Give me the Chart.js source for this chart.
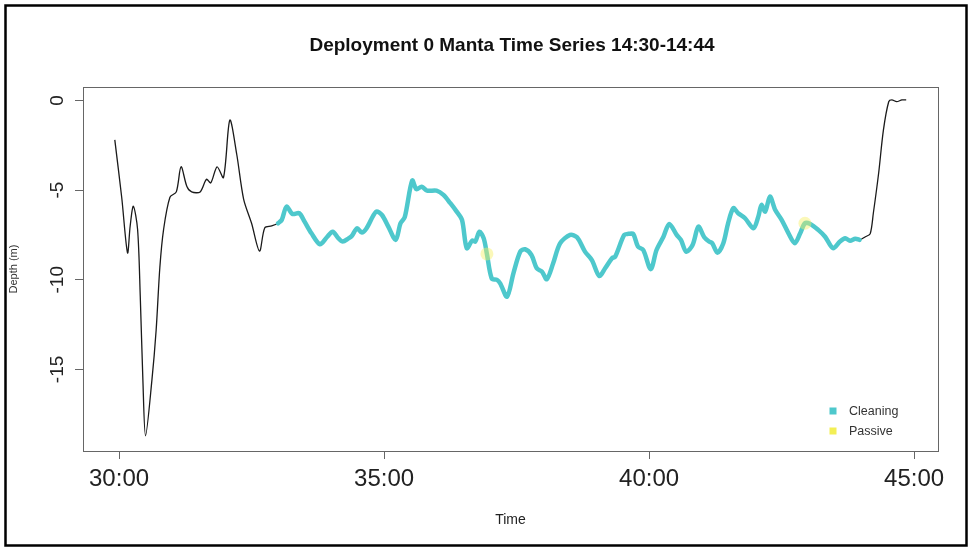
<!DOCTYPE html>
<html>
<head>
<meta charset="utf-8">
<script src="https://cdn.jsdelivr.net/npm/chart.js@4.4.1/dist/chart.umd.min.js"></script>
<style>
  html, body { margin: 0; padding: 0; background: #ffffff; }
  #wrap { width: 971px; height: 549px; position: relative; }
</style>
</head>
<body>
<div id="wrap"><canvas id="c" width="971" height="549"></canvas></div>
<script>
// Depth track of the deployment, minutes past 14:00 vs depth in metres
const trackMinutes = [
  29.92, 30.05, 30.16, 30.21, 30.27, 30.35, 30.40, 30.45, 30.50, 30.62, 30.70, 30.77,
  30.84, 30.96, 31.08, 31.17, 31.28, 31.37, 31.53, 31.65, 31.73, 31.85, 31.97, 32.09,
  32.22, 32.35, 32.50, 32.65, 32.75, 32.88,
  33.00, 33.07, 33.16, 33.27, 33.40, 33.50, 33.63, 33.79, 33.92, 34.03, 34.14, 34.22,
  34.33, 34.39, 34.49, 34.58, 34.67, 34.85, 34.96, 35.08, 35.22, 35.31, 35.39, 35.53,
  35.61, 35.71, 35.81, 35.99, 36.12, 36.25, 36.37, 36.47, 36.56, 36.66, 36.72, 36.80,
  36.88, 36.94, 37.03, 37.13, 37.19, 37.32, 37.44, 37.57, 37.66, 37.78, 37.88, 37.98,
  38.07, 38.19, 38.32, 38.51, 38.64, 38.79, 38.92, 39.06, 39.17, 39.30, 39.36, 39.53,
  39.61, 39.70, 39.79, 39.89, 40.03, 40.14, 40.27, 40.38, 40.52, 40.60, 40.70, 40.82,
  40.93, 41.04, 41.13, 41.19, 41.29, 41.40, 41.49, 41.59, 41.68, 41.81, 41.97, 42.06,
  42.12, 42.19, 42.28, 42.38, 42.50, 42.63, 42.75, 42.85, 42.94, 43.04, 43.19, 43.32,
  43.47, 43.60, 43.70, 43.79, 43.89, 43.97,
  44.08, 44.17, 44.23, 44.33, 44.42, 44.52, 44.58, 44.67, 44.77, 44.85
];
const trackDepth = [
  -2.2, -5.4, -8.5, -7.0, -5.9, -7.2, -10.9, -15.6, -18.7, -15.6, -12.8, -9.3,
  -7.2, -5.4, -5.1, -3.7, -4.8, -5.1, -5.1, -4.4, -4.6, -3.7, -4.3, -1.1,
  -3.0, -5.5, -6.85, -8.4, -7.1, -7.0,
  -6.85, -6.66, -5.92, -6.33, -6.29, -6.76, -7.41, -8.02, -7.63, -7.32, -7.69, -7.87,
  -7.69, -7.56, -7.13, -7.37, -7.13, -6.2, -6.39, -7.04, -7.78, -6.85, -6.51, -4.47,
  -4.95, -4.81, -5.03, -5.03, -5.27, -5.73, -6.2, -6.66, -8.24, -7.82, -7.87, -7.32,
  -7.69, -8.56, -9.92, -10.01, -10.2, -10.94, -9.64, -8.43, -8.3, -8.62, -9.36, -9.55,
  -9.97, -9.08, -7.97, -7.5, -7.63, -8.43, -8.9, -9.79, -9.36, -8.8, -8.71, -7.5,
  -7.44, -7.44, -8.15, -8.34, -9.41, -8.34, -7.6, -6.89, -7.5, -7.78, -8.43, -8.06,
  -7.04, -7.63, -7.87, -7.96, -8.49, -7.96, -6.85, -6.01, -6.29, -6.57, -7.13, -6.48,
  -5.83, -6.2, -5.36, -6.11, -6.66, -7.41, -7.96, -7.41, -6.85, -6.89, -7.22, -7.6,
  -8.24, -7.87, -7.69, -7.82, -7.71, -7.78,
  -7.6, -7.44, -6.29, -4.06, -1.65, -0.07, 0.03, -0.07, 0.03, 0.03
];
// Cleaning behaviour window (minutes)
const cleaningStart = 33.0;
const cleaningEnd = 43.97;
// Passive behaviour samples
const passiveMinutes = [36.94, 42.94];
const passiveDepth = [-8.56, -6.85];
// Axis ticks
const xTickValues = [30, 35, 40, 45];
const yTickValues = [0, -5, -10, -15];

const CLEAN_COLOR = '#4ec8cc';
const PASSIVE_COLOR = 'rgba(246, 240, 100, 0.45)';
const AXIS_COLOR = '#666666';
const TEXT_COLOR = '#222222';

Chart.defaults.font.family = "'Liberation Sans', Arial, Helvetica, sans-serif";

const trackPoints = trackMinutes.map((m, i) => ({ x: m, y: trackDepth[i] }));
const cleaningPoints = trackPoints.filter(p => p.x >= cleaningStart && p.x <= cleaningEnd);
const passivePoints = passiveMinutes.map((m, i) => ({ x: m, y: passiveDepth[i] }));

// Page frame, plot box, main title and legend
const decorations = {
  id: 'decorations',
  afterDraw(chart) {
    const ctx = chart.ctx;
    const a = chart.chartArea;
    ctx.save();
    // plot box
    ctx.strokeStyle = AXIS_COLOR;
    ctx.lineWidth = 1;
    ctx.strokeRect(Math.round(a.left) + 0.5, Math.round(a.top) + 0.5,
                   Math.round(a.right - a.left), Math.round(a.bottom - a.top));
    // outer frame
    ctx.strokeStyle = '#000000';
    ctx.lineWidth = 2.5;
    ctx.strokeRect(5.5, 5.5, 961, 540);
    // title
    ctx.fillStyle = '#111111';
    ctx.font = "bold 19px 'Liberation Sans', Arial, sans-serif";
    ctx.textAlign = 'center';
    ctx.textBaseline = 'middle';
    ctx.fillText('Deployment 0 Manta Time Series 14:30-14:44', 512, 46);
    // legend
    const items = [chart.data.datasets[1], chart.data.datasets[0]];
    ctx.font = "12.5px 'Liberation Sans', Arial, sans-serif";
    ctx.textAlign = 'left';
    items.forEach((ds, i) => {
      const cy = 411 + i * 20;
      ctx.fillStyle = ds.legendColor;
      ctx.fillRect(829.5, cy - 3.5, 7, 7);
      ctx.fillStyle = '#333333';
      ctx.fillText(ds.label, 849, cy + 0.5);
    });
    ctx.restore();
  }
};

new Chart(document.getElementById('c'), {
  type: 'scatter',
  data: {
    datasets: [
      {
        label: 'Passive',
        data: passivePoints,
        showLine: false,
        pointRadius: 6.5,
        pointHoverRadius: 6.5,
        pointBorderWidth: 0,
        pointBackgroundColor: PASSIVE_COLOR,
        legendColor: '#f3ef55',
        order: 0
      },
      {
        label: 'Cleaning',
        data: cleaningPoints,
        showLine: true,
        borderColor: CLEAN_COLOR,
        borderWidth: 4.5,
        tension: 0.3,
        pointRadius: 0,
        borderCapStyle: 'round',
        borderJoinStyle: 'round',
        legendColor: CLEAN_COLOR,
        order: 1
      },
      {
        label: 'Depth',
        data: trackPoints,
        showLine: true,
        borderColor: '#1a1a1a',
        borderWidth: 1.3,
        tension: 0.3,
        pointRadius: 0,
        order: 2
      }
    ]
  },
  options: {
    responsive: false,
    animation: false,
    devicePixelRatio: 1,
    layout: { padding: { left: 5, right: 33, top: 87, bottom: 5 } },
    plugins: {
      legend: { display: false },
      title: { display: false },
      tooltip: { enabled: false }
    },
    scales: {
      x: {
        type: 'linear',
        min: 29.32,
        max: 45.45,
        afterBuildTicks: s => { s.ticks = xTickValues.map(v => ({ value: v })); },
        afterFit: s => { s.height = 93; },
        grid: { display: true, drawOnChartArea: false, drawTicks: true, tickLength: 8, color: AXIS_COLOR, lineWidth: 1 },
        border: { display: true, color: AXIS_COLOR, width: 1 },
        ticks: {
          minRotation: 0, maxRotation: 0, autoSkip: false, padding: 6,
          font: { size: 24 }, color: TEXT_COLOR,
          callback: v => v + ':00'
        },
        title: { display: true, text: 'Time', font: { size: 14 }, color: TEXT_COLOR, padding: { top: 0, bottom: 15 } }
      },
      y: {
        type: 'linear',
        min: -19.55,
        max: 0.75,
        afterBuildTicks: s => { s.ticks = yTickValues.map(v => ({ value: v })); },
        afterFit: s => { s.width = 78; },
        grid: { display: true, drawOnChartArea: false, drawTicks: true, tickLength: 8, color: AXIS_COLOR, lineWidth: 1 },
        border: { display: true, color: AXIS_COLOR, width: 1 },
        ticks: {
          minRotation: 90, maxRotation: 90, crossAlign: 'center', autoSkip: false, padding: 4,
          font: { size: 19 }, color: TEXT_COLOR,
          callback: v => String(v)
        },
        title: { display: true, text: 'Depth (m)', font: { size: 11 }, color: '#333333', padding: { top: 2, bottom: 0 } }
      }
    }
  },
  plugins: [decorations]
});
</script>
</body>
</html>
